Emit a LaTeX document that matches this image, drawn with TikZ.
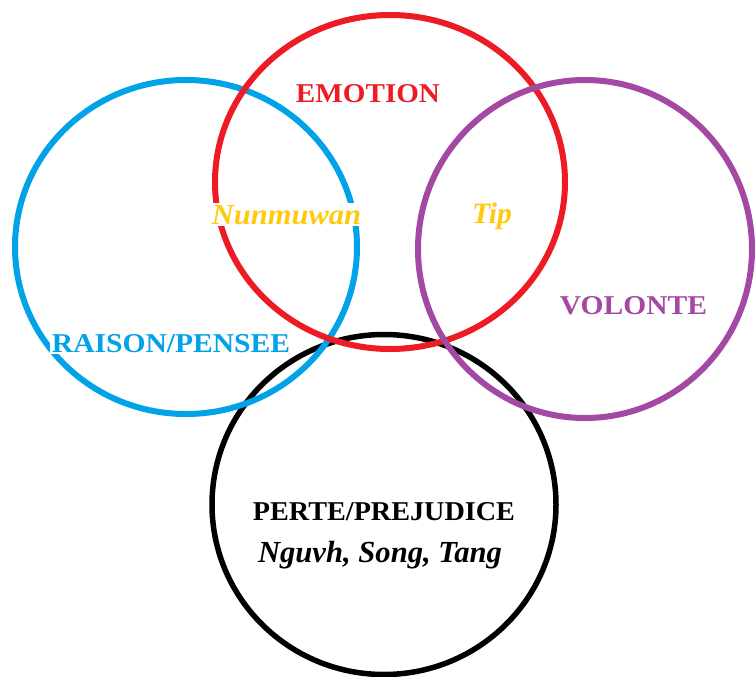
\documentclass[tikz,border=0pt]{standalone}
\usepackage{fontspec}
\setmainfont{Liberation Serif}
\usepackage{graphicx}
\definecolor{cred}{RGB}{237,28,36}
\definecolor{cblue}{RGB}{0,162,232}
\definecolor{cpurple}{RGB}{163,73,164}
\definecolor{cgold}{RGB}{255,201,14}
\begin{document}
\begin{tikzpicture}[x=1pt,y=-1pt,
  ring/.style={line width=6pt},
  lbl/.style={anchor=base, inner sep=1.5pt, fill=white, font=\bfseries},
  ilbl/.style={anchor=base, inner sep=1.5pt, fill=white, font=\bfseries\itshape}]
\useasboundingbox (0,0) rectangle (755,677);
\fill[white] (0,0) rectangle (755,677);
\draw[ring, black, line width=5.5pt] (384,504.5) ellipse [x radius=172pt, y radius=170pt];
\draw[ring, cblue] (186,247) ellipse [x radius=171pt, y radius=167pt];
\draw[ring, cred] (390,182) ellipse [x radius=175pt, y radius=167pt];
\draw[ring, cpurple] (585,249) ellipse [x radius=167pt, y radius=169pt];
\node[lbl, text=cred] (emotion) at (368,102) {\resizebox{144pt}{18pt}{EMOTION}};
\node[ilbl, text=cgold] (nunmuwan) at (286.5,224) {\resizebox{149pt}{19pt}{Nunmuwan}};
\node[ilbl, text=cgold, fill=none] (tip) at (492,223) {\resizebox{40pt}{!}{Tip}};
\node[lbl, text=cpurple] (volonte) at (633.5,314) {\resizebox{147pt}{18pt}{VOLONTE}};
\node[lbl, text=cblue] (raison) at (171,352) {\resizebox{238pt}{18pt}{RAISON/PENSEE}};
\node[lbl, text=black] (perte) at (384,520) {\resizebox{262pt}{18pt}{PERTE/PREJUDICE}};
\node[ilbl, text=black, fill=none] (nguvh) at (380,562) {\resizebox{244pt}{!}{Nguvh, Song, Tang}};
\end{tikzpicture}
\end{document}
